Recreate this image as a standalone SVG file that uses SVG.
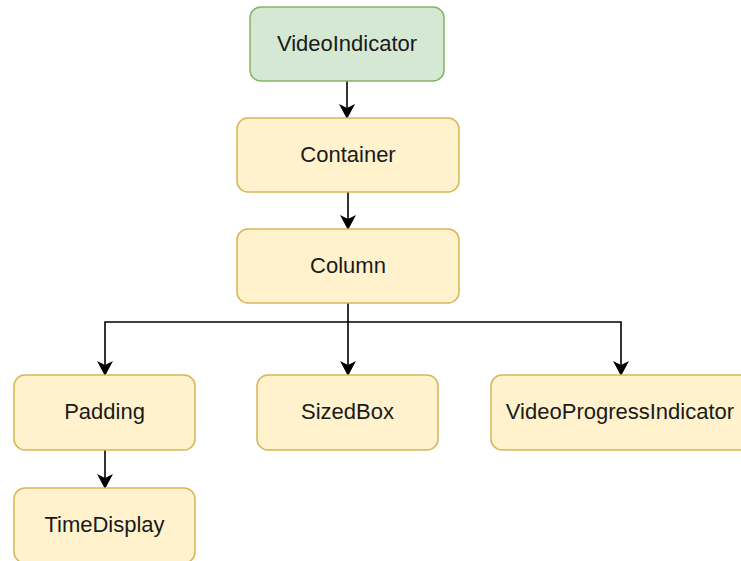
<svg xmlns="http://www.w3.org/2000/svg" width="741" height="561" viewBox="0 0 741 561">
  <style>
    .node rect { fill: #fff2cc; stroke: #d6b656; stroke-width: 1.5; }
    .node.root rect { fill: #d5e8d4; stroke: #82b366; }
    .node text { font-family: "Liberation Sans", Arial, sans-serif; font-size: 22px; fill: #1a1a1a; text-anchor: middle; }
    .edge { fill: none; stroke: #000; stroke-width: 1.6; marker-end: url(#arrow); }
  </style>
  <defs>
    <marker id="arrow" viewBox="0 0 15 16" refX="14" refY="8" markerWidth="15" markerHeight="16" markerUnits="userSpaceOnUse" orient="auto">
      <path d="M0,0 L15,8 L0,16 L4,8 Z" fill="#000"/>
    </marker>
  </defs>

  <g id="connectors">
    <path class="edge" d="M347,81 V118"/>
    <path class="edge" d="M348,192 V229"/>
    <path class="edge" d="M348,303 V375"/>
    <path class="edge" d="M348,322 H105 V375"/>
    <path class="edge" d="M348,322 H621 V375"/>
    <path class="edge" d="M105,450 V488"/>
  </g>

  <g id="videoIndicator" class="node root">
    <rect x="250" y="7" width="194" height="74" rx="11"/>
    <text x="347" y="51">VideoIndicator</text>
  </g>
  <g id="container" class="node">
    <rect x="237" y="118" width="222" height="74" rx="11"/>
    <text x="348" y="162">Container</text>
  </g>
  <g id="column" class="node">
    <rect x="237" y="229" width="222" height="74" rx="11"/>
    <text x="348" y="273">Column</text>
  </g>
  <g id="padding" class="node">
    <rect x="14" y="375" width="181" height="75" rx="11"/>
    <text x="104.5" y="419">Padding</text>
  </g>
  <g id="sizedBox" class="node">
    <rect x="257" y="375" width="181" height="75" rx="11"/>
    <text x="347.5" y="419">SizedBox</text>
  </g>
  <g id="videoProgressIndicator" class="node">
    <rect x="491" y="375" width="260" height="75" rx="11"/>
    <text x="620" y="419">VideoProgressIndicator</text>
  </g>
  <g id="timeDisplay" class="node">
    <rect x="14" y="488" width="181" height="75" rx="11"/>
    <text x="104.5" y="532">TimeDisplay</text>
  </g>
</svg>
